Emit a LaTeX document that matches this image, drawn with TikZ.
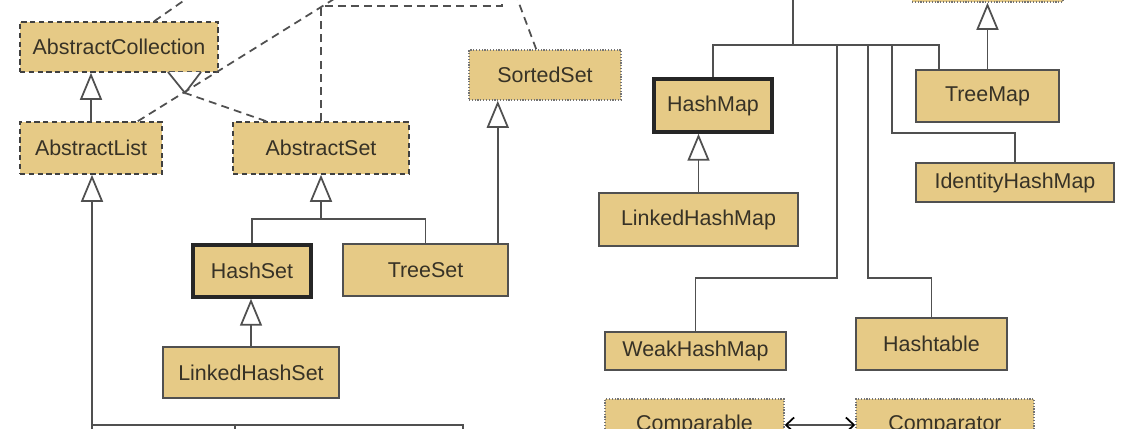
\documentclass[tikz,border=0pt]{standalone}
\usepackage{fontspec}
\setmainfont{Liberation Sans}
\usetikzlibrary{calc,arrows.meta}
\definecolor{clsfill}{RGB}{230,202,134}
\definecolor{clsline}{RGB}{80,80,80}
\definecolor{clstext}{RGB}{55,50,38}

\begin{document}
\begin{tikzpicture}[x=0.02cm, y=-0.02cm,
    cls/.style={draw=clsline, fill=clsfill, line width=0.9pt, text=clstext, inner sep=0pt, font=\fontsize{12.2}{14}\selectfont},
    abscls/.style={cls, draw=black!75, dash pattern=on 3pt off 2pt},
    iface/.style={cls, draw=black!55, dash pattern=on 0.7pt off 0.9pt},
    concls/.style={cls, draw=black!85, line width=2pt},
    link/.style={draw=clsline, line width=1pt},
    gen/.style={link, -{Triangle[open, width=0.44cm, length=0.54cm]}},
    impl/.style={link, dash pattern=on 4.5pt off 3pt},
    dep/.style={link, {Straight Barb[length=1.6mm, width=3mm, color=black]}-{Straight Barb[length=1.6mm, width=3mm, color=black]}}]

    \useasboundingbox (0,0) rectangle (1144,429);
    \clip (0,0) rectangle (1144,429);

    \node[abscls, minimum width=3.96cm, minimum height=1cm] (abscoll) at (119,47) {AbstractCollection};
    \node[abscls, minimum width=2.84cm, minimum height=1.04cm] (abslist) at (91,148) {AbstractList};
    \node[abscls, minimum width=3.52cm, minimum height=1.04cm] (absset) at (321,148) {AbstractSet};
    \node[iface, minimum width=3.04cm, minimum height=1cm] (sortedset) at (545,75) {SortedSet};
    \node[concls, minimum width=2.36cm, minimum height=1.04cm] (hashset) at (252,271) {HashSet};
    \node[cls, minimum width=3.3cm, minimum height=1.04cm] (treeset) at (425.5,270) {TreeSet};
    \node[cls, minimum width=3.52cm, minimum height=1.02cm] (lhset) at (251,372.5) {LinkedHashSet};

    \node[iface, minimum width=3.02cm, minimum height=1cm] (sortedmap) at (987.5,-23) {};
    \node[concls, minimum width=2.36cm, minimum height=1.06cm] (hashmap) at (713,105.5) {HashMap};
    \node[cls, minimum width=3.98cm, minimum height=1.06cm] (lhmap) at (698.5,219.5) {LinkedHashMap};
    \node[cls, minimum width=2.86cm, minimum height=1.04cm] (treemap) at (987.5,96) {TreeMap};
    \node[cls, minimum width=3.96cm, minimum height=0.78cm] (identity) at (1015,182.5) {IdentityHashMap};
    \node[cls, minimum width=3.62cm, minimum height=0.76cm] (weak) at (695.5,351) {WeakHashMap};
    \node[cls, minimum width=3.02cm, minimum height=1.04cm] (hashtable) at (931.5,344) {Hashtable};
    \node[iface, minimum width=3.58cm, minimum height=1.04cm] (comparable) at (694.5,425) {Comparable};
    \node[iface, minimum width=3.56cm, minimum height=1.04cm] (comparator) at (945,425) {Comparator};

    \coordinate (acv) at (185,93);
    \coordinate (setbus) at (321,219);
    \coordinate (tsup) at ($(treeset.north east)+(-11,0)$);
    \coordinate (listbus) at (92,425);
    \coordinate (mapbus) at (793,45);
    \coordinate (wbend) at (837,278);
    \coordinate (hbend) at (868,278);
    \coordinate (ibend) at (892,133);

    \draw[link, fill=white] (168,72) -- (acv) -- (201,72);
    \draw[impl] ($(absset.north west)+(34,0)$) -- (acv);
    \draw[impl] ($(abslist.north east)+(-25,0)$) -- (342,-6);
    \draw[impl] ($(abscoll.north west)+(135,0)$) -- (199,-10);
    \draw[impl] ($(absset.north west)+(89,0)$) |- (502,6) -- (502,-10);
    \draw[impl] ($(sortedset.north west)+(68,0)$) -- (514,-10);

    \draw[gen] (abslist.north) -- (abslist.north |- abscoll.south);
    \draw[gen] (listbus) -- (listbus |- abslist.south);
    \draw[link] (92,440) -- (listbus) -- (463,425) -- (463,440);
    \draw[link] (235,425) -- (235,440);

    \draw[gen] (setbus) -- (absset.south);
    \draw[link] (hashset.north) |- (setbus) -| (treeset.north);
    \draw[gen] (tsup) -- (tsup |- sortedset.south);
    \draw[gen] (lhset.north) -- (lhset.north |- hashset.south);

    \draw[link] (mapbus) -- (793,-10);
    \draw[link] (hashmap.north) |- (mapbus) -| ($(treemap.north west)+(24,0)$);
    \draw[link] (mapbus -| wbend) -- (wbend) -| (weak.north);
    \draw[link] (mapbus -| hbend) -- (hbend) -| (hashtable.north);
    \draw[link] (mapbus -| ibend) -- (ibend) -| (identity.north);
    \draw[gen] (lhmap.north) -- (lhmap.north |- hashmap.south);
    \draw[gen] (treemap.north) -- (treemap.north |- sortedmap.south);

    \draw[dep] (comparable.east) -- (comparator.west);
\end{tikzpicture}
\end{document}
